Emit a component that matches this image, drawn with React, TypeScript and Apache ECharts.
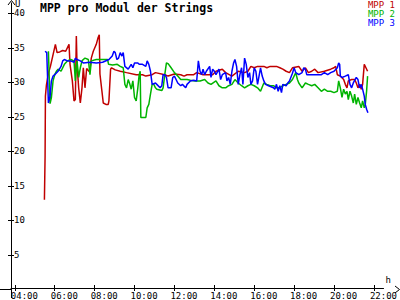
import React, { useEffect, useRef } from "react";
import * as echarts from "echarts";

const TIME_TICKS = [4, 6, 8, 10, 12, 14, 16, 18, 20, 22];
const VOLT_TICKS = [5, 10, 15, 20, 25, 30, 35, 40];

const T1 = ["05:29","05:31","05:32","05:35","05:41","05:47","06:02","06:07","06:15","06:24","06:33","06:43","06:46","06:53","06:58","07:02","07:05","07:07","07:12","07:17","07:22","07:26","07:31","07:36","07:45","07:50","07:56","08:05","08:10","08:14","08:16","08:22","08:26","08:34","08:41","08:43","08:48","08:51","09:02","09:17","09:36","10:05","10:24","10:34","10:53","11:03","11:31","11:41","12:00","12:19","12:29","12:38","12:58","13:07","13:26","13:36","13:55","14:05","14:24","14:34","14:53","15:12","15:31","15:41","15:50","16:00","16:10","16:29","16:38","16:48","17:07","17:17","17:26","17:36","17:46","17:55","18:14","18:24","18:34","18:43","18:53","19:02","19:12","19:31","19:50","20:00","20:05","20:10","20:19","20:29","20:34","20:39","20:43","20:53","21:02","21:07","21:12","21:17","21:22","21:26","21:31","21:36","21:41"];
const MPP1 = [13.0,19.3,28.0,29.6,31.3,32.3,35.5,34.3,34.4,34.6,34.5,35.5,32.6,30.2,27.3,27.5,36.7,32.6,29.2,27.0,29.2,32.1,29.2,32.0,31.5,33.5,34.5,35.5,36.4,36.9,31.2,28.7,27.0,26.8,26.8,27.3,31.9,32.1,31.8,31.6,31.4,31.1,31.1,30.9,31.1,31.4,31.1,30.9,31.2,31.1,30.9,31.1,31.1,31.4,31.1,31.1,31.1,31.6,31.9,31.4,30.9,31.6,31.4,31.6,32.3,32.1,32.3,32.3,32.1,32.3,32.3,32.1,31.9,31.6,31.4,32.1,32.3,31.6,32.1,31.4,31.6,31.9,31.4,31.6,31.9,32.1,32.3,31.1,30.9,30.4,29.7,29.2,30.2,30.4,30.4,29.9,29.2,29.7,29.0,29.7,32.6,32.1,31.6];

const T2 = ["05:41","05:46","05:50","05:55","06:00","06:05","06:10","06:19","06:29","06:38","06:48","06:58","07:02","07:07","07:12","07:17","07:22","07:26","07:31","07:41","07:46","07:50","08:05","08:19","08:39","08:42","08:54","09:08","09:17","09:26","09:31","09:36","09:41","09:46","09:50","09:55","10:00","10:05","10:10","10:14","10:17","10:19","10:34","10:38","10:43","10:48","10:53","10:58","11:03","11:07","11:22","11:26","11:31","11:36","11:41","11:50","12:00","12:10","12:19","12:38","12:48","13:02","13:17","13:31","13:41","13:50","14:05","14:14","14:24","14:34","14:43","14:53","15:02","15:12","15:22","15:31","15:41","15:50","16:00","16:10","16:19","16:29","16:38","16:48","16:58","17:07","17:17","17:26","17:36","17:46","17:55","18:05","18:10","18:14","18:24","18:34","18:43","18:53","19:02","19:12","19:22","19:31","19:41","19:50","20:00","20:10","20:14","20:19","20:24","20:29","20:34","20:39","20:43","20:48","20:53","20:58","21:02","21:07","21:12","21:17","21:22","21:26","21:31","21:34","21:38","21:41"];
const MPP2 = [34.5,26.9,27.8,30.2,31.1,31.6,31.9,31.6,32.6,33.1,33.3,33.1,30.2,33.1,30.7,32.1,33.1,33.3,33.5,33.3,31.1,33.1,33.3,33.3,33.3,32.6,32.5,32.6,32.3,32.1,29.7,29.2,30.4,29.7,29.0,30.2,27.8,27.3,29.2,31.1,31.6,24.9,24.9,26.3,26.8,28.3,29.7,29.7,29.2,29.0,28.8,29.2,31.1,32.8,32.7,32.1,31.4,30.9,30.4,30.4,30.3,30.2,30.2,30.4,29.9,29.7,30.2,29.5,29.2,29.2,29.5,29.7,30.4,29.9,29.5,29.2,29.5,29.7,29.5,29.2,28.7,29.9,29.7,29.5,29.5,29.2,29.2,29.5,29.7,29.9,30.4,31.4,30.4,29.9,29.2,29.9,29.7,29.5,29.7,29.2,28.7,29.0,28.7,28.7,28.5,28.7,30.2,29.2,27.8,29.0,28.3,28.7,27.5,28.7,28.0,27.0,28.3,26.8,27.8,27.0,26.3,27.3,26.3,26.8,28.7,30.9];

const T3 = ["05:31","05:36","05:41","05:46","05:50","05:55","06:00","06:10","06:14","06:19","06:24","06:29","06:38","06:48","06:58","07:02","07:07","07:17","07:26","07:46","08:05","08:24","08:43","08:53","08:58","09:02","09:07","09:12","09:17","09:22","09:26","09:31","09:41","09:50","09:55","10:00","10:10","10:14","10:24","10:34","10:38","10:43","10:48","10:53","11:03","11:07","11:17","11:22","11:26","11:31","11:36","11:41","11:50","11:55","12:00","12:05","12:10","12:19","12:24","12:34","12:38","12:48","12:58","13:07","13:12","13:17","13:22","13:26","13:31","13:36","13:46","13:50","13:55","14:00","14:05","14:14","14:19","14:24","14:34","14:38","14:43","14:48","14:53","14:58","15:02","15:07","15:12","15:17","15:22","15:26","15:31","15:36","15:41","15:46","15:50","15:55","16:00","16:05","16:10","16:19","16:24","16:29","16:34","16:43","16:58","17:02","17:07","17:12","17:17","17:22","17:26","17:36","17:41","17:46","17:55","18:00","18:05","18:14","18:24","18:29","18:34","18:38","18:58","19:22","19:31","19:41","19:50","20:00","20:10","20:14","20:17","20:19","20:24","20:34","20:43","20:48","20:53","20:58","21:07","21:12","21:17","21:22","21:26","21:31","21:34","21:38","21:42"];
const MPP3 = [34.5,34.3,27.0,28.0,30.2,30.9,31.1,31.6,31.9,32.3,33.1,33.3,33.1,33.1,32.9,33.5,33.3,33.1,32.8,32.9,32.8,32.9,33.3,33.8,34.5,34.3,33.3,33.5,34.3,33.8,34.3,32.3,31.9,32.6,32.1,32.8,32.8,32.6,32.6,32.3,33.1,32.6,31.6,29.7,29.9,29.7,29.2,29.5,31.1,31.1,30.7,29.2,29.2,30.7,30.9,30.4,29.9,29.5,29.7,29.2,29.7,30.2,30.3,30.2,33.1,31.6,31.1,31.9,31.1,31.6,32.3,30.7,31.9,31.6,31.1,31.9,30.4,31.1,31.4,30.2,30.7,29.7,31.6,32.8,33.3,32.3,29.7,31.1,32.1,29.7,33.5,32.6,30.7,31.4,29.7,30.2,32.1,31.6,29.7,32.1,30.9,30.2,29.7,29.5,29.2,29.0,29.7,28.7,29.5,28.5,29.7,29.5,29.9,30.2,31.3,32.1,31.4,31.1,31.4,32.1,31.9,31.1,31.1,31.1,31.4,31.1,31.4,31.6,32.1,32.8,32.6,30.9,30.7,30.9,31.1,29.7,29.2,29.9,30.7,30.4,29.2,29.7,29.0,28.0,26.8,26.1,25.6];

const SERIES_NAMES = ["MPP 1", "MPP 2", "MPP 3"];
const COLORS = ["#c00000", "#00b400", "#0000ff"];

const toHours = (s: string) => {
  const [h, m] = s.split(":").map(Number);
  return h + m / 60;
};
const pair = (t: string[], v: number[]) => t.map((s, i) => [toHours(s), v[i]]);

const MONO = "DejaVu Sans Mono";

export default function App() {
  const ref = useRef<HTMLDivElement>(null);
  useEffect(() => {
    document.body.style.margin = "0";
    if (!ref.current) return;
    const chart = echarts.init(ref.current, null, { renderer: "svg" });
    const xMin = 3.808;
    const xMax = 22.483;
    const yMin = 0.2;
    const yMax = 41.5;
    const axisCommonX = {
      type: "value" as const,
      min: xMin,
      max: xMax,
      position: "bottom" as const,
      splitLine: { show: false },
    };
    const axisCommonY = {
      type: "value" as const,
      min: yMin,
      max: yMax,
      position: "left" as const,
      splitLine: { show: false },
    };
    const datasets = [pair(T1, MPP1), pair(T2, MPP2), pair(T3, MPP3)];
    chart.setOption({
      animation: false,
      backgroundColor: "#ffffff",
      title: {
        text: "MPP pro Modul der Strings",
        left: 40,
        top: 2,
        padding: 0,
        textStyle: { fontFamily: MONO, fontWeight: "bold", fontSize: 11.5, color: "#000" },
      },
      legend: {
        orient: "vertical",
        right: 5,
        top: 0,
        padding: 0,
        itemGap: 0,
        itemWidth: 0,
        itemHeight: 0,
        data: SERIES_NAMES.map((n, i) => ({ name: n, textStyle: { color: COLORS[i] } })),
        textStyle: { fontFamily: MONO, fontSize: 9, lineHeight: 8 },
      },
      grid: { left: 11, right: 0, top: 0, bottom: 11 },
      xAxis: [
        {
          ...axisCommonX,
          name: "h",
          nameLocation: "end",
          nameGap: 2,
          nameTextStyle: { fontFamily: MONO, fontSize: 9, color: "#000", align: "left", verticalAlign: "bottom", padding: [0, 0, 4, 0] },
          axisLine: { show: true, lineStyle: { color: "#000", width: 1 } },
          axisTick: { show: true, inside: false, length: 3, customValues: TIME_TICKS, lineStyle: { color: "#000" } },
          axisLabel: {
            show: true,
            customValues: TIME_TICKS,
            margin: 3,
            align: "left",
            padding: [0, 0, 0, -4],
            fontFamily: MONO,
            fontSize: 9,
            color: "#000",
            formatter: (v: number) => String(Math.round(v)).padStart(2, "0") + ":00",
          },
        },
        {
          ...axisCommonX,
          axisLine: { show: false },
          axisTick: { show: true, inside: true, length: 3, customValues: TIME_TICKS, lineStyle: { color: "#000" } },
          axisLabel: { show: false },
        },
      ],
      yAxis: [
        {
          ...axisCommonY,
          name: "U",
          nameLocation: "end",
          nameGap: -1,
          nameTextStyle: { fontFamily: MONO, fontSize: 9, color: "#000", align: "left", verticalAlign: "top", padding: [-3, 0, 0, 4] },
          axisLine: { show: true, lineStyle: { color: "#000", width: 1 } },
          axisTick: { show: true, inside: false, length: 3, customValues: VOLT_TICKS, lineStyle: { color: "#000" } },
          axisLabel: {
            show: true,
            inside: true,
            margin: 3,
            customValues: VOLT_TICKS,
            fontFamily: MONO,
            fontSize: 9,
            color: "#000",
          },
        },
        {
          ...axisCommonY,
          axisLine: { show: false },
          axisTick: { show: true, inside: true, length: 3, customValues: VOLT_TICKS, lineStyle: { color: "#000" } },
          axisLabel: { show: false },
        },
      ],
      series: datasets.map((d, i) => ({
        name: SERIES_NAMES[i],
        type: "line",
        data: d,
        showSymbol: false,
        symbol: "none",
        color: COLORS[i],
        lineStyle: { width: 1.5, color: COLORS[i] },
        xAxisIndex: 0,
        yAxisIndex: 0,
      })),
      graphic: [
        { type: "line", shape: { x1: 0, y1: 289.5, x2: 11, y2: 289.5 }, style: { stroke: "#000", lineWidth: 1 } },
        { type: "line", shape: { x1: 11.5, y1: 289, x2: 11.5, y2: 298 }, style: { stroke: "#000", lineWidth: 1 } },
        { type: "polyline", shape: { points: [[8, 5], [11.5, 0.5], [15, 5]] }, style: { stroke: "#000", fill: "none", lineWidth: 1 } },
        { type: "polyline", shape: { points: [[395, 286], [399.5, 289.5], [395, 293]] }, style: { stroke: "#000", fill: "none", lineWidth: 1 } },
      ],
    });
    return () => chart.dispose();
  }, []);
  return <div ref={ref} style={{ position: "fixed", left: 0, top: 0, width: 400, height: 300 }} />;
}
